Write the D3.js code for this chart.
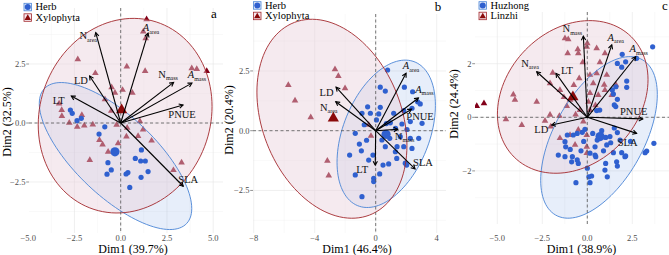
<!DOCTYPE html>
<html>
<head>
<meta charset="utf-8">
<script src="https://cdn.jsdelivr.net/npm/d3@7"></script>
<style>
  body { margin: 0; background: #fff; }
</style>
</head>
<body>
<svg id="chart" width="669" height="255"></svg>
<script>
// ---------- data ----------
const varNames = ["Narea", "Aarea", "Nmass", "Amass", "PNUE", "LD", "LT", "SLA"];

// panel a : Herb vs Xylophyta
const herbA = [[-2.72,0.55],[-2.62,0.41],[-2.13,0.20],[-2.36,0.10],[-0.86,-0.16],[-1.17,-0.47],[-0.69,-1.68],
  [-0.51,-1.99],[-0.74,-2.17],[0.39,-2.10],[0.29,-2.16],[0.49,-2.73],[0.79,-1.50],[1.12,-1.14],[1.08,-1.61],
  [1.33,-1.61],[1.48,-2.06],[1.10,-2.30]];
const xyloA = [[1.40,4.39],[1.22,3.87],[1.35,3.59],[-2.32,2.70],[-1.37,2.11],[0.33,2.39],[1.32,2.20],[3.84,2.32],
  [4.11,2.28],[4.65,2.20],[-0.49,1.51],[-0.31,1.28],[0.10,1.40],[0.63,1.28],[-0.85,1.00],[-3.33,0.82],[-3.19,0.55],
  [-3.18,0.29],[-2.78,0.01],[-2.35,-0.16],[-1.97,-0.11],[-1.51,-0.07],[-2.10,0.34],[-0.51,0.52],[-0.22,-0.08],
  [1.04,0.07],[0.35,-0.20],[1.21,-0.28],[0.94,-0.55],[0.31,-0.58],[1.67,-0.75],[-1.15,-0.72],[-0.98,-0.91],
  [-0.14,-0.86],[-0.68,-1.22],[-1.67,-1.57],[3.29,-1.68],[2.85,-2.00]];
const meanHerbA = [-0.31, -1.22];
const meanXyloA = [0.05, 0.55];
const loadA = [[-1.35,3.83],[1.48,3.81],[2.86,1.72],[3.85,1.69],[3.37,0.76],[-1.68,1.99],[-2.67,1.14],[3.38,-2.68]];
// ellipse: centre x, centre y, var x, var y, cov xy (already scaled to the drawn size)
const ellHerbA = [-0.28, -1.40, 16.98, 9.70, -9.16];
const ellXyloA = [0.24, 0.31, 22.07, 17.0, 1.83];

// panel b : Herb vs Xylophyta
const herbB = [[0.78,2.54],[0.30,1.82],[0.63,1.66],[1.88,1.82],[2.42,1.63],[-0.53,1.00],[-0.35,0.73],[0.30,0.98],
  [-0.90,0.73],[0.20,0.70],[1.18,0.73],[0.96,0.33],[1.84,0.84],[2.38,0.94],[2.75,1.21],[2.92,1.12],[3.04,0.31],
  [2.27,0.38],[1.72,0.28],[-1.34,-0.11],[-1.07,-0.56],[-0.94,-0.84],[-1.71,-1.02],[-0.46,-1.23],[-0.18,-1.02],
  [0.48,-1.44],[0.85,-1.39],[0.26,-1.81],[-0.13,-1.99],[-0.13,-2.13],[-1.34,-1.85],[-0.90,-2.76],[1.40,-0.67],
  [1.84,-0.67],[2.38,-0.74],[1.29,-0.88],[1.94,-1.36],[0.92,-0.32],[0.63,-0.67],[0.41,-0.39],[1.61,-0.25],
  [2.27,-0.32],[2.82,-0.32],[1.38,-1.16],[2.03,-1.44],[-0.60,-0.40],[0.70,0.30],[1.30,0.10],[-0.75,0.25],
  [0.05,0.45],[2.05,0.05]];
const xyloB = [[-2.67,2.57],[-2.45,2.29],[-2.01,1.77],[-5.73,1.91],[-5.29,1.26],[-4.26,0.56],[-3.17,-1.26],
  [-3.08,-1.88],[-0.46,0.25],[-0.31,-0.22]];
const meanHerbB = [0.68, -0.15];
const meanXyloB = [-2.78, 0.52];
const loadB = [[-2.62,1.21],[1.99,2.40],[1.44,0.06],[2.80,1.37],[2.35,0.90],[-2.60,1.82],[-0.03,-1.44],[2.58,-1.60]];
const ellHerbB = [0.69, -0.13, 10.4, 9.51, 3.84];
const ellXyloB = [-2.87, 0.50, 24.2, 17.33, -5.49];

// panel c : Huzhong vs Linzhi
const huzhongC = [[3.63,2.63],[1.94,2.35],[2.74,2.20],[1.91,1.87],[1.67,2.01],[2.13,2.07],[2.19,1.35],[2.19,1.12],
  [1.59,1.14],[1.39,1.02],[1.45,0.87],[1.67,0.67],[1.50,0.46],[1.58,0.40],[0.69,0.27],[0.52,0.25],[-0.13,-0.45],
  [-0.28,-0.56],[-0.56,-0.60],[-0.78,-0.66],[-1.11,-0.66],[-1.24,-0.91],[-1.20,-1.10],[-1.61,-1.41],[-1.24,-1.47],
  [-0.87,-1.66],[-0.50,-1.72],[-0.83,-1.47],[-0.56,-1.59],[0.15,-1.34],[0.43,-1.41],[0.43,-1.10],[1.02,-0.75],
  [1.26,-0.72],[1.30,-0.95],[1.67,-0.57],[1.82,-0.85],[1.08,-1.03],[1.45,-1.32],[1.91,-1.32],[2.09,-1.47],
  [1.63,-1.66],[2.13,-1.44],[0.47,-1.47],[1.02,-1.72],[1.67,-1.82],[0.98,-1.97],[1.11,-2.22],[0.00,-1.90],
  [0.24,-2.19],[0.09,-2.22],[0.15,-2.44],[-0.63,-2.44],[3.30,-1.26],[3.21,-1.32],[3.70,-0.97],[0.80,-0.50],
  [0.55,-0.85],[-0.35,-1.25],[-0.95,-1.20],[-0.20,-0.90],[0.90,-1.25],[2.40,-0.90],[0.30,-0.60],[1.50,-0.40]];
const linzhiC = [[-6.14,0.42],[-5.74,0.52],[-4.11,0.85],[-4.02,0.65],[-2.81,0.58],[-4.52,-0.08],[-3.64,-0.29],
  [-2.35,-0.13],[-2.07,0.09],[-1.52,-0.78],[-2.03,-0.35],[-1.24,2.95],[-1.06,2.91],[-0.53,2.54],[-1.09,2.39],
  [-0.03,2.63],[0.52,2.57],[0.98,2.39],[-0.50,2.39],[0.00,2.76],[-1.92,1.66],[-2.07,1.27],[-1.52,1.02],
  [-0.96,0.65],[-1.14,0.42],[-0.41,0.27],[0.15,1.58],[0.52,1.64],[1.08,1.58],[0.33,1.27],[0.94,1.21],[1.59,1.21],
  [0.98,1.02],[0.61,0.83],[0.15,0.90],[1.36,0.83],[0.06,0.58],[0.15,0.27],[-0.22,-0.16],[-0.50,-0.47],
  [-0.96,-0.66],[-0.68,-1.03],[-0.03,-0.66],[-0.03,-1.10],[-0.03,-1.34],[-0.45,1.45],[-0.75,1.20],[-1.30,0.75],
  [0.45,0.45],[-0.25,2.05],[0.70,2.05],[-1.55,0.05],[-0.65,0.10]];
const meanHuzhongC = [0.71, -0.72];
const meanLinzhiC = [-0.80, 0.76];
const loadC = [[-2.81,1.70],[1.36,2.70],[-0.22,3.03],[2.69,2.26],[3.08,-0.06],[-1.98,-0.29],[-1.74,1.64],[2.74,-0.60]];
const ellHuzhongC = [0.65, -0.75, 10.49, 9.09, 5.18];
const ellLinzhiC = [-0.81, 0.76, 17.5, 8.11, 2.69];

// ---------- styles / layout ----------
const serif = "'Liberation Serif', 'Times New Roman', Times, 'DejaVu Serif', serif";
const blueCol = "#2F60CF", redCol = "#820019";
const blueLine = "#4A84D6", redLine = "#A3282C";
const labelParts = {
  Narea: ["N", "area", false], Aarea: ["A", "area", true], Nmass: ["N", "mass", false], Amass: ["A", "mass", true],
  PNUE: ["PNUE", "", false], LD: ["LD", "", false], LT: ["LT", "", false], SLA: ["SLA", "", false]
};

const panels = [
  { letter: "a", names: ["Herb", "Xylophyta"], g1: herbA, g2: xyloA, m1: meanHerbA, m2: meanXyloA,
    load: loadA, e1: ellHerbA, e2: ellXyloA, dim1: "Dim1 (39.7%)", dim2: "Dim2 (32.5%)",
    xDom: [-5, 5], xRange: [28.2, 213.2], yDom: [-2.5, 2.5], yRange: [182, 64],
    box: [29, 8, 223, 233], xTicks: [-5, -2.5, 0, 2.5, 5], yTicks: [-2.5, 0, 2.5],
    xMinor: [-3.75, -1.25, 1.25, 3.75], yMinor: [-3.75, -1.25, 1.25, 3.75],
    xFmt: ".1f", yFmt: ".1f", xTitle: 133, yTitle: [11, 122], letterPos: [214, 18], legend: [24, 3.3],
    labOff: [[-7.5,6.5],[3,-2],[-5.5,-4.5],[5,-5],[-1,13],[-8.7,8],[-12.6,7.5],[5,-3]] },
  { letter: "b", names: ["Herb", "Xylophyta"], g1: herbB, g2: xyloB, m1: meanHerbB, m2: meanXyloB,
    load: loadB, e1: ellHerbB, e2: ellXyloB, dim1: "Dim1 (46.4%)", dim2: "Dim2 (20.4%)",
    xDom: [-8, 4], xRange: [253.7, 436.7], yDom: [-2.5, 2.5], yRange: [190.45, 70.95],
    box: [253, 14, 446, 233], xTicks: [-8, -4, 0, 4], yTicks: [-2.5, 0, 2.5],
    xMinor: [-6, -2, 2], yMinor: [-3.75, -1.25, 1.25, 3.75],
    xFmt: "d", yFmt: ".1f", xTitle: 357, yTitle: [233, 120], letterPos: [438, 11], legend: [253.5, 1.7],
    labOff: [[-7,9],[5,-4],[7,10.5],[6,-5],[8.5,11],[-9.5,8.5],[-13,8.3],[8,-2.5]] },
  { letter: "c", names: ["Huzhong", "Linzhi"], g1: huzhongC, g2: linzhiC, m1: meanHuzhongC, m2: meanLinzhiC,
    load: loadC, e1: ellHuzhongC, e2: ellLinzhiC, dim1: "Dim1 (38.9%)", dim2: "Dim2 (24.4%)",
    xDom: [-5, 2.5], xRange: [497.3, 632.3], yDom: [-2, 2], yRange: [170.9, 63.7],
    box: [475, 12, 669, 224], xTicks: [-5, -2.5, 0, 2.5], yTicks: [-2, 0, 2],
    xMinor: [-3.75, -1.25, 1.25, 3.75], yMinor: [-3, -1, 1, 3],
    xFmt: ".1f", yFmt: "d", xTitle: 581.5, yTitle: [458, 104], letterPos: [665, 10], legend: [479, 1.7],
    labOff: [[-6.7,-5],[4,-4],[-11,-4],[3,-4.4],[-9,-4],[-10.4,8.3],[11,0.7],[-9,12.7]] }
];

const svg = d3.select("#chart").attr("font-family", serif);
const defs = svg.append("defs");

function ellipsePath(e, x, y) {
  const [cx, cy, vx, vy, cxy] = e;
  const l11 = Math.sqrt(vx), l21 = cxy / l11, l22 = Math.sqrt(vy - l21 * l21);
  const pts = d3.range(0, 121).map(i => {
    const t = i / 120 * 2 * Math.PI;
    return [x(cx + l11 * Math.cos(t)), y(cy + l21 * Math.cos(t) + l22 * Math.sin(t))];
  });
  return d3.line()(pts) + "Z";
}

const tri = d3.symbol().type(d3.symbolTriangle);

panels.forEach((p, pi) => {
  const x = d3.scaleLinear().domain(p.xDom).range(p.xRange);
  const y = d3.scaleLinear().domain(p.yDom).range(p.yRange);
  const [L, T, R, B] = p.box;
  const g = svg.append("g");

  defs.append("clipPath").attr("id", "clip" + pi)
    .append("rect").attr("x", L).attr("y", T).attr("width", R - L).attr("height", B - T);
  const plot = g.append("g").attr("clip-path", `url(#clip${pi})`);

  // grid
  plot.selectAll(".vminor").data(p.xMinor).join("line")
    .attr("x1", d => x(d)).attr("x2", d => x(d)).attr("y1", T).attr("y2", B)
    .attr("stroke", "#f1f1f1").attr("stroke-width", 0.4);
  plot.selectAll(".hminor").data(p.yMinor).join("line")
    .attr("x1", L).attr("x2", R).attr("y1", d => y(d)).attr("y2", d => y(d))
    .attr("stroke", "#f1f1f1").attr("stroke-width", 0.4);
  plot.selectAll(".vmajor").data(p.xTicks).join("line")
    .attr("x1", d => x(d)).attr("x2", d => x(d)).attr("y1", T).attr("y2", B)
    .attr("stroke", "#e6e6e6").attr("stroke-width", 0.6);
  plot.selectAll(".hmajor").data(p.yTicks).join("line")
    .attr("x1", L).attr("x2", R).attr("y1", d => y(d)).attr("y2", d => y(d))
    .attr("stroke", "#e6e6e6").attr("stroke-width", 0.6);

  // first group ellipse fill (under)
  plot.append("path").attr("d", ellipsePath(p.e1, x, y))
    .attr("fill", "#5B8DE0").attr("fill-opacity", 0.15);

  // second group points, then its ellipse fill on top (tints the ones inside)
  plot.selectAll(".tri").data(p.g2).join("path")
    .attr("d", tri.size(19)())
    .attr("transform", d => `translate(${x(d[0])},${y(d[1])})`)
    .attr("fill", redCol);
  plot.append("path").attr("d", ellipsePath(p.e2, x, y))
    .attr("fill", "#E9D0DB").attr("fill-opacity", 0.45);

  // first group points
  plot.selectAll(".dot").data(p.g1).join("circle")
    .attr("cx", d => x(d[0])).attr("cy", d => y(d[1])).attr("r", 2.6)
    .attr("fill", blueCol);

  // ellipse outlines
  plot.append("path").attr("d", ellipsePath(p.e1, x, y))
    .attr("fill", "none").attr("stroke", blueLine).attr("stroke-width", 0.9);
  plot.append("path").attr("d", ellipsePath(p.e2, x, y))
    .attr("fill", "none").attr("stroke", redLine).attr("stroke-width", 0.9);

  // zero lines
  plot.append("line").attr("x1", L).attr("x2", R).attr("y1", y(0)).attr("y2", y(0))
    .attr("stroke", "#555").attr("stroke-width", 0.8).attr("stroke-dasharray", "3,2.5");
  plot.append("line").attr("x1", x(0)).attr("x2", x(0)).attr("y1", T).attr("y2", B)
    .attr("stroke", "#555").attr("stroke-width", 0.8).attr("stroke-dasharray", "3,2.5");

  // group means
  plot.append("circle").attr("cx", x(p.m1[0])).attr("cy", y(p.m1[1])).attr("r", 4.6).attr("fill", blueCol);
  plot.append("path").attr("d", tri.size(55)())
    .attr("transform", `translate(${x(p.m2[0])},${y(p.m2[1])})`).attr("fill", "#8B0A0A");

  // variable arrows
  const ox = x(0), oy = y(0);
  p.load.forEach((d, i) => {
    const tx = x(d[0]), ty = y(d[1]);
    const ang = Math.atan2(ty - oy, tx - ox), hl = 4.5, sp = 0.5;
    plot.append("line").attr("x1", ox).attr("y1", oy).attr("x2", tx).attr("y2", ty)
      .attr("stroke", "#000").attr("stroke-width", 1.1);
    plot.append("path")
      .attr("d", `M${tx - hl * Math.cos(ang - sp)},${ty - hl * Math.sin(ang - sp)}L${tx},${ty}` +
                 `L${tx - hl * Math.cos(ang + sp)},${ty - hl * Math.sin(ang + sp)}`)
      .attr("fill", "none").attr("stroke", "#000").attr("stroke-width", 1.1);
    const [main, sub, ital] = labelParts[varNames[i]];
    const t = g.append("text").attr("x", tx + p.labOff[i][0]).attr("y", ty + p.labOff[i][1])
      .attr("text-anchor", "middle").attr("font-size", 10.5).attr("fill", "#111");
    t.append("tspan").text(main).attr("font-style", ital ? "italic" : "normal");
    if (sub) t.append("tspan").text(sub).attr("font-size", 6).attr("dy", 2.5);
  });

  // axes text
  const xf = d3.format(p.xFmt), yf = d3.format(p.yFmt);
  g.selectAll(".xt").data(p.xTicks).join("text")
    .attr("x", d => x(d)).attr("y", 241).attr("text-anchor", "middle")
    .attr("font-size", 8.5).attr("fill", "#4d4d4d").text(d => xf(d));
  g.selectAll(".yt").data(p.yTicks).join("text")
    .attr("x", L - 3.5).attr("y", d => y(d) + 3).attr("text-anchor", "end")
    .attr("font-size", 8.5).attr("fill", "#4d4d4d").text(d => yf(d));
  g.selectAll(".ytk").data(p.yTicks).join("line")
    .attr("x1", L - 2.8).attr("x2", L).attr("y1", d => y(d)).attr("y2", d => y(d))
    .attr("stroke", "#4d4d4d").attr("stroke-width", 0.6);

  g.append("text").attr("x", p.xTitle).attr("y", 252.5).attr("text-anchor", "middle")
    .attr("font-size", 12).text(p.dim1);
  g.append("text").attr("transform", `translate(${p.yTitle[0]},${p.yTitle[1]}) rotate(-90)`)
    .attr("text-anchor", "middle").attr("font-size", 12).text(p.dim2);

  g.append("text").attr("x", p.letterPos[0]).attr("y", p.letterPos[1])
    .attr("text-anchor", "middle").attr("font-size", 13).text(p.letter);

  // legend
  const [lx, ly] = p.legend, ks = 7.5;
  const leg = g.append("g");
  leg.append("rect").attr("x", lx).attr("y", ly).attr("width", ks).attr("height", ks)
    .attr("fill", "#e6edf9").attr("stroke", blueLine).attr("stroke-width", 0.8);
  leg.append("circle").attr("cx", lx + ks / 2).attr("cy", ly + ks / 2).attr("r", 3).attr("fill", blueCol);
  leg.append("rect").attr("x", lx).attr("y", ly + 10.5).attr("width", ks).attr("height", ks)
    .attr("fill", "#f6e8ee").attr("stroke", redLine).attr("stroke-width", 0.8);
  leg.append("path").attr("d", tri.size(18)())
    .attr("transform", `translate(${lx + ks / 2},${ly + 10.5 + ks / 2 + 0.5})`).attr("fill", "#8B0A0A");
  leg.append("text").attr("x", lx + ks + 4).attr("y", ly + 7).attr("font-size", 10.5).text(p.names[0]);
  leg.append("text").attr("x", lx + ks + 4).attr("y", ly + 17.5).attr("font-size", 10.5).text(p.names[1]);
});
</script>
</body>
</html>
